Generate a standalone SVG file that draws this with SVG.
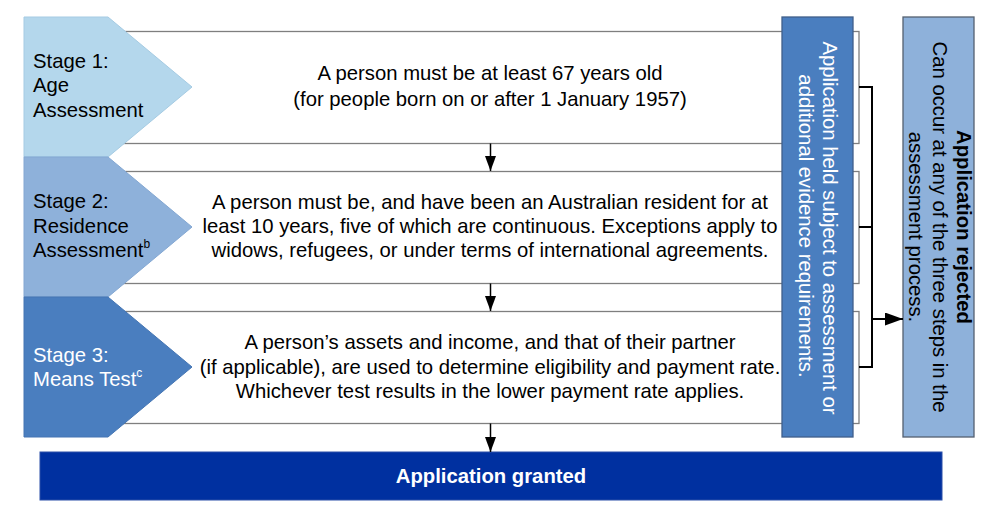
<svg xmlns="http://www.w3.org/2000/svg" width="999" height="518" viewBox="0 0 999 518">
<defs>
<style>
text{font-family:"Liberation Sans",Arial,sans-serif;font-size:20.3px;fill:#000}
.box{fill:#fff;stroke:#7f7f7f;stroke-width:1.3}
.c{text-anchor:middle}
.w{fill:#fff}
.b{font-weight:bold}
.sup{font-size:12px}
.conn{fill:none;stroke:#000;stroke-width:1.5}
.br{fill:none;stroke:#000;stroke-width:2}
</style>
<marker id="ah" markerWidth="15" markerHeight="11" refX="15" refY="5.5" orient="auto" markerUnits="userSpaceOnUse" viewBox="0 0 15 11">
<path d="M0,0 L15,5.5 L0,11 Z" fill="#000"/>
</marker>
<marker id="ahr" markerWidth="18" markerHeight="13" refX="18" refY="6.5" orient="auto" markerUnits="userSpaceOnUse" viewBox="0 0 18 13">
<path d="M0,0 L18,6.5 L0,13 Z" fill="#000"/>
</marker>
</defs>
<rect width="999" height="518" fill="#fff"/>

<g id="box1"><rect class="box" x="100" y="31.5" width="759" height="112"/>
<text class="c" x="490" y="80">A person must be at least 67 years old</text>
<text class="c" x="490" y="106">(for people born on or after 1 January 1957)</text></g>
<g id="box2"><rect class="box" x="100" y="171.5" width="759" height="112"/>
<text class="c" x="490" y="209">A person must be, and have been an Australian resident for at</text>
<text class="c" x="490" y="233">least 10 years, five of which are continuous. Exceptions apply to</text>
<text class="c" x="490" y="257">widows, refugees, or under terms of international agreements.</text></g>
<g id="box3"><rect class="box" x="100" y="311.5" width="759" height="112"/>
<text class="c" x="490" y="349">A person’s assets and income, and that of their partner</text>
<text class="c" x="490" y="374">(if applicable), are used to determine eligibility and payment rate.</text>
<text class="c" x="490" y="398">Whichever test results in the lower payment rate applies.</text></g>

<g id="stage1"><path d="M24,17 H108 L192,87 L108,157 H24 Z" fill="#B4D7EC" stroke="#A5CBE3" stroke-width="1"/>
<text x="33" y="68">Stage 1:</text><text x="33" y="92">Age</text><text x="33" y="117">Assessment</text></g>
<g id="stage2"><path d="M24,157 H108 L192,227 L108,297 H24 Z" fill="#8EB1DA" stroke="#83A7D2" stroke-width="1"/>
<text x="33" y="208">Stage 2:</text><text x="33" y="233">Residence</text><text x="33" y="257">Assessment<tspan class="sup" dy="-9">b</tspan></text></g>
<g id="stage3"><path d="M24,297 H108 L192,367 L108,437 H24 Z" fill="#4A7EBF" stroke="#4475B3" stroke-width="1"/>
<text class="w" x="33" y="362">Stage 3:</text><text class="w" x="33" y="386">Means Test<tspan class="sup" dy="-9">c</tspan></text></g>

<g id="held"><rect x="782" y="17" width="71" height="420" fill="#4A7EBF" stroke="#3F5F8A" stroke-width="1.3"/>
<text class="c w" transform="translate(823,228) rotate(90)">Application held subject to assessment or</text>
<text class="c w" transform="translate(799,226) rotate(90)">additional evidence requirements.</text></g>

<g id="rejected"><rect x="903" y="17" width="71" height="420" fill="#8EB1DA" stroke="#556070" stroke-width="1.3"/>
<text class="c b" transform="translate(957,227) rotate(90)">Application rejected</text>
<text class="c" transform="translate(933,227) rotate(90)">Can occur at any of the three steps in the</text>
<text class="c" transform="translate(909,227) rotate(90)">assessment process.</text></g>

<g id="granted"><rect x="40" y="452" width="902" height="48" fill="#0030A0" stroke="#2A4FA8" stroke-width="1"/>
<text class="c w b" x="491" y="483">Application granted</text></g>

<g id="connectors">
<path class="conn" d="M490.5,143.5 V171" marker-end="url(#ah)"/>
<path class="conn" d="M490.5,283.5 V311" marker-end="url(#ah)"/>
<path class="conn" d="M490.5,423.5 V452" marker-end="url(#ah)"/>
<path class="br" d="M859,87 H872 V367 H859 M872,227 H859"/>
<path class="br" d="M872,319 H903" marker-end="url(#ahr)"/>
</g>
</svg>
